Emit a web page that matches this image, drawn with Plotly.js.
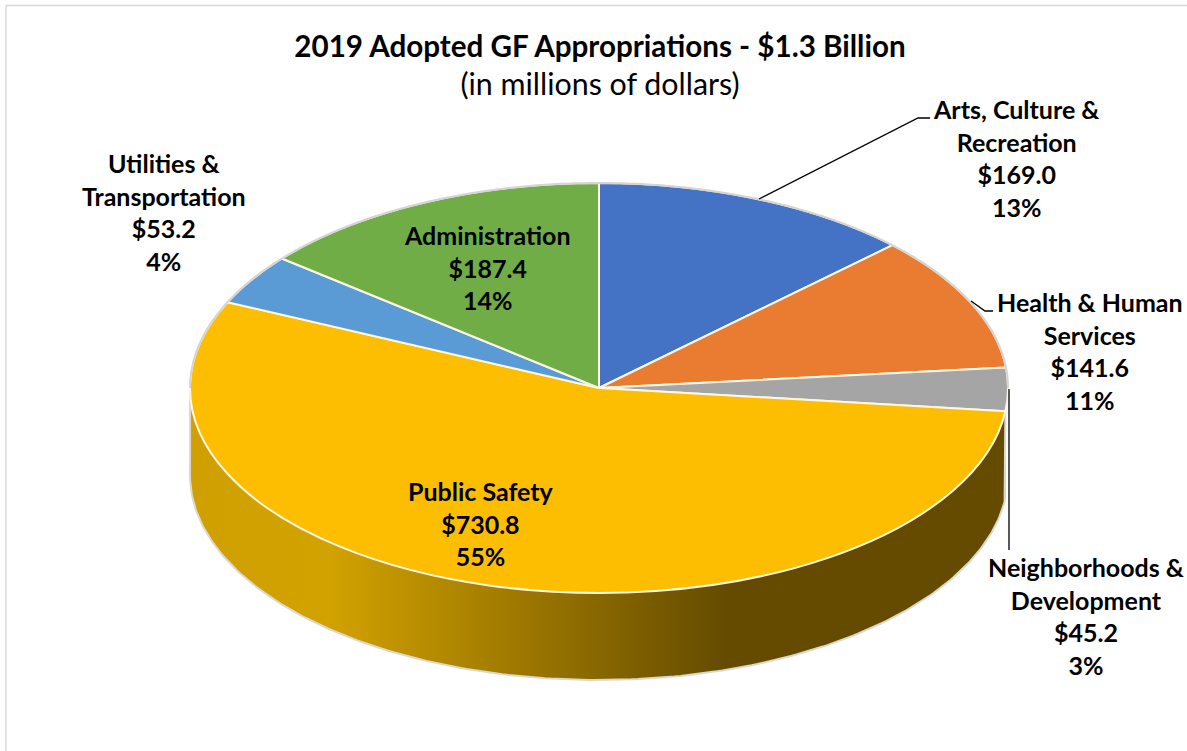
<!DOCTYPE html>
<html>
<head>
<meta charset="utf-8">
<script src="https://cdn.plot.ly/plotly-3.0.1.min.js"></script>
<style>html,body{margin:0;padding:0;background:#fff}#chart{width:1187px;height:751px}</style>
</head>
<body>
<div id="chart"></div>
<script>
// ---- data ----
const categories = ['Arts, Culture & Recreation','Health & Human Services','Neighborhoods & Development','Public Safety','Utilities & Transportation','Administration'];
const labelLines = ['Arts, Culture &<br>Recreation','Health & Human<br>Services','Neighborhoods &<br>Development','Public Safety','Utilities &<br>Transportation','Administration'];
const values = [169.0,141.6,45.2,730.8,53.2,187.4];
const sliceColors = ['#4472c4','#e97c30','#a5a5a5','#fdbd00','#5b9bd5','#70ad47'];

// ---- layout constants (pixels of the 1187x751 page) ----
const W = 1187, H = 751;
const ellipse = {cx:599, cy:388, rx:409, ry:205, depth:87};
const labelCenters = [[1016,158],[1090,351],[1086,616],[481,523.5],[164,212],[487,267.5]];
const FONT = 'Lato, Carlito, sans-serif';

const total = values.reduce((a,b)=>a+b,0);
const cum = values.reduce((acc,v)=>{acc.push(acc[acc.length-1]+v);return acc;},[0]);
const deg = v => v/total*360;
const pt = (a,dy=0) => [ellipse.cx+ellipse.rx*Math.sin(a*Math.PI/180), ellipse.cy-ellipse.ry*Math.cos(a*Math.PI/180)+dy];
function arc(a0,a1,dy,n){const out=[];for(let i=0;i<=n;i++)out.push(pt(a0+(a1-a0)*i/n,dy));return out;}

// wall under the Public Safety slice, from its start angle round to the leftmost point of the rim
const wallStart = deg(cum[3]), wallEnd = 270;
const wallPts = arc(wallStart,wallEnd,0,200).concat(arc(wallEnd,wallStart,ellipse.depth,200));
const edgePts = [pt(wallStart,0)].concat(arc(wallStart,wallEnd,ellipse.depth,200)).concat([pt(wallEnd,0)]);
const backRim = arc(wallEnd,450,0,240);
const toPath = pts => 'M'+pts.map(p=>p[0].toFixed(2)+','+p[1].toFixed(2)).join('L');

const traces = [
  {type:'scatter',mode:'none',x:wallPts.map(p=>p[0]),y:wallPts.map(p=>p[1]),fill:'toself',hoverinfo:'skip',showlegend:false,
   fillgradient:{type:'horizontal',start:ellipse.cx-ellipse.rx,stop:ellipse.cx+ellipse.rx,
     colorscale:[[0,'#cfa000'],[0.17,'#d2a200'],[0.655,'#644b00'],[1,'#644b00']]}},
  {type:'scatter',mode:'lines',x:edgePts.map(p=>p[0]),y:edgePts.map(p=>p[1]),line:{color:'#dcd9cc',width:2},hoverinfo:'skip',showlegend:false},
  {type:'pie',labels:categories,values:values,sort:false,direction:'clockwise',rotation:0,
   textinfo:'none',hoverinfo:'label+value+percent',showlegend:false,
   domain:{x:[0,1],y:[0,1]},
   marker:{colors:sliceColors,line:{color:'#fbf7e4',width:2}}}
];

const annotations = categories.map((c,i)=>({
  xref:'x',yref:'y',x:labelCenters[i][0],y:labelCenters[i][1],xanchor:'center',yanchor:'middle',align:'center',
  showarrow:false,font:{family:FONT,size:25,color:'#000'},
  text:'<b>'+labelLines[i]+'<br>$'+values[i].toFixed(1)+'<br>'+Math.round(values[i]/total*100)+'%</b>'
}));

const leader = d => ({type:'path',xref:'x',yref:'y',path:d,line:{color:'#000',width:1.3},layer:'above'});
const frame = d => ({type:'path',xref:'x',yref:'y',path:d,line:{color:'#d9d9d9',width:1.5},layer:'below'});
const shapes = [
  frame('M6,751L6,5.5L1187,5.5'),
  {type:'path',xref:'x',yref:'y',path:toPath(backRim),line:{color:'#d4d4d4',width:2},layer:'above'},
  leader('M759,199L918,118L930,118'),
  leader('M971,301L985,311L993,311'),
  leader('M1009,389L1009,550')
];

const layout = {
  width:W,height:H,margin:{l:0,r:0,t:0,b:0,pad:0},paper_bgcolor:'#fff',plot_bgcolor:'rgba(0,0,0,0)',
  xaxis:{visible:false,range:[0,W],fixedrange:true},
  yaxis:{visible:false,range:[H,0],fixedrange:true},
  showlegend:false,
  title:{text:'<b>2019 Adopted GF Appropriations - $1.3 Billion</b><br><span style="font-size:30.4px">(in millions of dollars)</span>',
    x:600/W,xanchor:'center',xref:'paper',y:1-57/H,yanchor:'middle',yref:'paper',
    font:{family:FONT,size:29.6,color:'#000'}},
  annotations,shapes
};

Plotly.newPlot('chart',traces,layout,{displayModeBar:false,staticPlot:true}).then(gd=>{
  // tilt the pie: squash the circular pie into the perspective ellipse
  const r = Math.min(W,H)/2;
  const layer = gd.querySelector('.pielayer');
  layer.setAttribute('transform',
    `translate(${ellipse.cx},${ellipse.cy}) scale(${ellipse.rx/r},${ellipse.ry/r}) translate(${-W/2},${-H/2})`);
  layer.querySelectorAll('path').forEach(p=>p.setAttribute('vector-effect','non-scaling-stroke'));
});
</script>
</body>
</html>
